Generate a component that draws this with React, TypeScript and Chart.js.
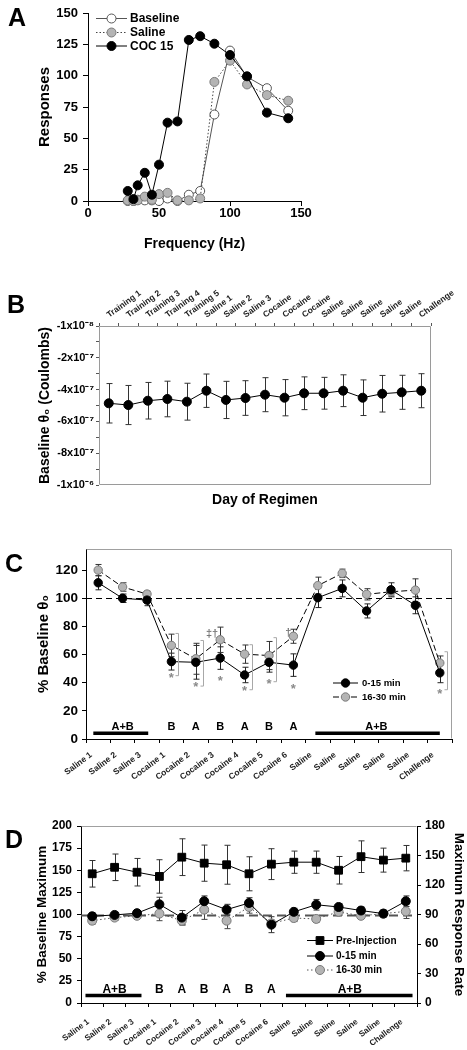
import React, { useEffect, useRef } from "react";
import { Chart, registerables } from "chart.js";

Chart.register(...registerables);

const FONT = "'Liberation Sans', Arial, Helvetica, sans-serif";

/* ---------------- Panel A ---------------- */
const A_SERIES = ["Baseline", "Saline", "COC 15"];
const A_FREQ_HZ = [28, 32, 35, 40, 45, 50, 56, 63, 71, 79, 89, 100, 112, 126, 141];
const A_BASELINE = [0, 0, 1, 0.5, 0.5, 0, 2, 0, 5, 8, 69, 120, 99, 90, 72];
const A_SALINE = [0.5, 0, 0.5, 3.5, 1, 5.5, 6.5, 0.5, 0.5, 2, 95, 112, 93, 84.5, 80];
const A_COC15 = [8, 1.5, 12.5, 22.5, 5, 29, 62.5, 63.5, 128.5, 131.5, 125.5, 116.5, 99.5, 70.5, 66];

/* ---------------- Panel B ---------------- */
const B_DAYS = [
  "Training 1", "Training 2", "Training 3", "Training 4", "Training 5",
  "Saline 1", "Saline 2", "Saline 3", "Cocaine", "Cocaine", "Cocaine",
  "Saline", "Saline", "Saline", "Saline", "Saline", "Challenge",
];
const B_THETA0 = [
  -4.86e-7, -4.97e-7, -4.7e-7, -4.59e-7, -4.76e-7, -4.07e-7, -4.65e-7, -4.53e-7, -4.32e-7,
  -4.51e-7, -4.23e-7, -4.23e-7, -4.07e-7, -4.51e-7, -4.26e-7, -4.17e-7, -4.07e-7,
];
const B_THETA0_SEM = [
  1.24e-7, 1.23e-7, 1.15e-7, 1.12e-7, 1.16e-7, 1.05e-7, 1.17e-7, 1.09e-7, 1.07e-7,
  1.14e-7, 1.03e-7, 1.0e-7, 1.0e-7, 1.12e-7, 1.15e-7, 1.07e-7, 1.07e-7,
];
const B_Y_TICK_LABELS = ["-1x10⁻⁸", "-2x10⁻⁷", "-4x10⁻⁷", "-6x10⁻⁷", "-8x10⁻⁷", "-1x10⁻⁶"];

/* ---------------- Panel C ---------------- */
const C_SERIES = ["0-15 min", "16-30 min"];
const C_DAYS = [
  "Saline 1", "Saline 2", "Saline 3", "Cocaine 1", "Cocaine 2", "Cocaine 3", "Cocaine 4",
  "Cocaine 5", "Cocaine 6", "Saline", "Saline", "Saline", "Saline", "Saline", "Challenge",
];
const C_EARLY = [111, 100, 98.7, 55, 54.5, 57.5, 45.5, 54.5, 52.5, 100.4, 107, 91, 106, 95, 47];
const C_EARLY_SEM = [5, 3, 4, 6, 12, 8, 5.5, 7, 8, 7, 6, 5, 5, 6, 7];
const C_LATE = [120, 108, 103, 66.5, 57, 70.5, 60.3, 59.3, 73, 109, 117.7, 102.8, 104.6, 105.8, 54];
const C_LATE_SEM = [4, 3, 2, 8, 11, 9, 6.5, 10, 5, 6, 3, 4, 3, 8, 5];
const C_GROUP_LETTERS = ["B", "A", "B", "A", "B", "A"];
const C_GROUP_BARS = [
  { from: -0.2, to: 2.05, label: "A+B", at: 1 },
  { from: 8.9, to: 14, label: "A+B", at: 11.4 },
];
const C_STARS: [number, number][] = [[3, 45.5], [4, 38.5], [5, 43], [6, 36], [7, 40.7], [8, 37.6], [14, 34]];
const C_BRACKETS: [number, number, number][] = [[3, 75, 45], [4, 70, 37.6], [6, 67, 35], [7, 72, 40.7], [14, 62, 35]];
const C_DAGGERS: [number, number, string][] = [[5, 74.5, "‡†"], [8, 75.3, "†"]];

/* ---------------- Panel D ---------------- */
const D_SERIES = ["Pre-Injection", "0-15 min", "16-30 min"];
const D_DAYS = [
  "Saline 1", "Saline 2", "Saline 3", "Cocaine 1", "Cocaine 2", "Cocaine 3", "Cocaine 4",
  "Cocaine 5", "Cocaine 6", "Saline", "Saline", "Saline", "Saline", "Saline", "Challenge",
];
const D_PRE_RATE = [131.4, 138, 133, 128.7, 148.3, 142.2, 140.6, 131.4, 141.2, 143.2, 143.2, 135, 148.8, 145.3, 147.3];
const D_PRE_RATE_SEM = [13.5, 13.5, 14, 17, 18.7, 18.4, 19.8, 17.3, 15.7, 11.3, 11.3, 14, 16.1, 12.2, 12.9];
const D_EARLY = [98, 99.5, 101.5, 111.5, 96.5, 115, 105.5, 113, 88.5, 103, 111, 108.5, 104.5, 101, 115];
const D_EARLY_SEM = [4, 3, 3, 8, 8, 6, 6, 6, 9, 4, 6, 4, 4, 4, 6];
const D_LATE = [93, 96.5, 98.5, 101, 93, 105.5, 93, 108.5, 90, 96, 95, 103, 98.5, 101, 103.5];
const D_LATE_SEM = [4, 3, 3, 8, 5, 11, 9, 7, 4, 4, 4, 4, 3, 4, 8];
const D_GROUP_LETTERS = ["B", "A", "B", "A", "B", "A"];
const D_GROUP_BARS = [
  { from: -0.3, to: 2.2, label: "A+B", at: 1 },
  { from: 8.65, to: 14.3, label: "A+B", at: 11.5 },
];

/* ---------------- helpers ---------------- */
const bold = (size: number) => ({ family: FONT, size, weight: "bold" as const });
const GRAY_FILL = "#b4b4b4";
const GRAY_LINE = "#7a7a7a";

const errorBars = {
  id: "errorBarsLocal",
  beforeDatasetsDraw(chart: any) {
    const ctx = chart.ctx;
    chart.data.datasets.forEach((ds: any, di: number) => {
      if (!ds.errors) return;
      const meta = chart.getDatasetMeta(di);
      const ys = chart.scales[meta.yAxisID];
      ctx.save();
      ctx.strokeStyle = ds.errorColor || "#333";
      ctx.lineWidth = 1;
      meta.data.forEach((el: any, i: number) => {
        const raw = ds.data[i];
        const v = typeof raw === "number" ? raw : raw.y;
        const e = ds.errors[i];
        const x = Math.round(el.x) + 0.5;
        const yt = ys.getPixelForValue(v + e);
        const yb = ys.getPixelForValue(v - e);
        const c = ds.errorCap ?? 3;
        ctx.beginPath();
        ctx.moveTo(x, yt);
        ctx.lineTo(x, yb);
        ctx.moveTo(x - c, yt);
        ctx.lineTo(x + c, yt);
        ctx.moveTo(x - c, yb);
        ctx.lineTo(x + c, yb);
        ctx.stroke();
      });
      ctx.restore();
    });
  },
};

function framePlugin(sides: string[], color: string) {
  return {
    id: "frameLocal",
    beforeDatasetsDraw(chart: any) {
      const { ctx, chartArea: a } = chart;
      const L = Math.round(a.left) + 0.5;
      const R = Math.round(a.right) - 0.5;
      const T = Math.round(a.top) + 0.5;
      const B = Math.round(a.bottom) - 0.5;
      ctx.save();
      ctx.strokeStyle = color;
      ctx.lineWidth = 1;
      ctx.beginPath();
      if (sides.includes("top")) { ctx.moveTo(L, T); ctx.lineTo(R, T); }
      if (sides.includes("right")) { ctx.moveTo(R, T); ctx.lineTo(R, B); }
      if (sides.includes("bottom")) { ctx.moveTo(L, B); ctx.lineTo(R, B); }
      if (sides.includes("left")) { ctx.moveTo(L, T); ctx.lineTo(L, B); }
      ctx.stroke();
      ctx.restore();
    },
  };
}

function refLinePlugin(axisId: string, value: number, color: string, width: number, dash: number[]) {
  return {
    id: "refLineLocal",
    beforeDatasetsDraw(chart: any) {
      const { ctx, chartArea: a } = chart;
      const y = Math.round(chart.scales[axisId].getPixelForValue(value)) + 0.5;
      ctx.save();
      ctx.strokeStyle = color;
      ctx.lineWidth = width;
      ctx.setLineDash(dash);
      ctx.beginPath();
      ctx.moveTo(a.left, y);
      ctx.lineTo(a.right, y);
      ctx.stroke();
      ctx.restore();
    },
  };
}

type LegendRow = {
  label: string; lineColor: string; dash: number[]; fill: string; stroke: string;
  shape: "circle" | "rect"; r: number; y: number;
};
function legendPlugin(rows: LegendRow[], x0: number, x1: number, textX: number, fontSize: number) {
  return {
    id: "miniLegend",
    afterDatasetsDraw(chart: any) {
      const ctx = chart.ctx;
      rows.forEach((row) => {
        ctx.save();
        ctx.strokeStyle = row.lineColor;
        ctx.lineWidth = 1;
        ctx.setLineDash(row.dash);
        ctx.beginPath();
        ctx.moveTo(x0, row.y + 0.5);
        ctx.lineTo(x1, row.y + 0.5);
        ctx.stroke();
        ctx.setLineDash([]);
        const xm = (x0 + x1) / 2;
        ctx.fillStyle = row.fill;
        ctx.strokeStyle = row.stroke;
        ctx.beginPath();
        if (row.shape === "rect") ctx.rect(xm - row.r, row.y + 0.5 - row.r, 2 * row.r, 2 * row.r);
        else ctx.arc(xm, row.y + 0.5, row.r, 0, Math.PI * 2);
        ctx.fill();
        ctx.stroke();
        ctx.fillStyle = "#000";
        ctx.font = `bold ${fontSize}px ${FONT}`;
        ctx.textBaseline = "middle";
        ctx.textAlign = "left";
        ctx.fillText(row.label, textX, row.y + 1);
        ctx.restore();
      });
    },
  };
}

type MarksCfg = {
  bars: { from: number; to: number; label: string; at: number }[];
  letters: string[];
  letterStart: number;
  barValue: number;
  textValue: number;
  fontSize: number;
  stars?: [number, number][];
  brackets?: [number, number, number][];
  daggers?: [number, number, string][];
};
function marksPlugin(cfg: MarksCfg) {
  return {
    id: "regimenMarks",
    afterDatasetsDraw(chart: any) {
      const ctx = chart.ctx;
      const xs = chart.scales.x;
      const ys = chart.scales.y;
      ctx.save();
      const by = ys.getPixelForValue(cfg.barValue);
      const ty = ys.getPixelForValue(cfg.textValue);
      ctx.strokeStyle = "#000";
      ctx.lineWidth = 3.5;
      ctx.fillStyle = "#000";
      ctx.font = `bold ${cfg.fontSize}px ${FONT}`;
      ctx.textAlign = "center";
      ctx.textBaseline = "middle";
      cfg.bars.forEach((b) => {
        ctx.beginPath();
        ctx.moveTo(xs.getPixelForValue(b.from), by);
        ctx.lineTo(xs.getPixelForValue(b.to), by);
        ctx.stroke();
        ctx.fillText(b.label, xs.getPixelForValue(b.at), ty);
      });
      cfg.letters.forEach((l, k) => ctx.fillText(l, xs.getPixelForValue(cfg.letterStart + k), ty));
      if (cfg.brackets) {
        ctx.strokeStyle = "#a8a8a8";
        ctx.lineWidth = 1;
        cfg.brackets.forEach(([i, top, bot]) => {
          const x = Math.round(xs.getPixelForValue(i)) + 7.5;
          const y1 = ys.getPixelForValue(top);
          const y2 = ys.getPixelForValue(bot);
          ctx.beginPath();
          ctx.moveTo(x - 3, y1);
          ctx.lineTo(x, y1);
          ctx.lineTo(x, y2);
          ctx.lineTo(x - 3, y2);
          ctx.stroke();
        });
      }
      if (cfg.stars) {
        ctx.fillStyle = "#8a8a8a";
        ctx.font = `bold 13px ${FONT}`;
        cfg.stars.forEach(([i, v]) => ctx.fillText("*", xs.getPixelForValue(i), ys.getPixelForValue(v) + 3));
      }
      if (cfg.daggers) {
        ctx.fillStyle = "#777";
        ctx.font = `bold 11px ${FONT}`;
        ctx.textAlign = "right";
        cfg.daggers.forEach(([i, v, s]) => ctx.fillText(s, xs.getPixelForValue(i) - 2, ys.getPixelForValue(v)));
      }
      ctx.restore();
    },
  };
}

const baseOptions = {
  responsive: false,
  animation: false as const,
  events: [] as any[],
  plugins: { legend: { display: false }, tooltip: { enabled: false } },
};

/* ---------------- chart builders ---------------- */
function buildA() {
  const pts = (ys: number[]) => A_FREQ_HZ.map((x, i) => ({ x, y: ys[i] }));
  return {
    type: "line",
    data: {
      datasets: [
        { label: A_SERIES[0], data: pts(A_BASELINE), borderColor: "#555", borderWidth: 1, pointRadius: 4.5,
          pointBackgroundColor: "#fff", pointBorderColor: "#555", pointBorderWidth: 1, order: 3, clip: false },
        { label: A_SERIES[1], data: pts(A_SALINE), borderColor: "#444", borderWidth: 1, borderDash: [1.5, 2],
          pointRadius: 4.5, pointBackgroundColor: GRAY_FILL, pointBorderColor: GRAY_LINE, pointBorderWidth: 1,
          order: 2, clip: false },
        { label: A_SERIES[2], data: pts(A_COC15), borderColor: "#000", borderWidth: 1, pointRadius: 4.5,
          pointBackgroundColor: "#000", pointBorderColor: "#000", pointBorderWidth: 1, order: 1, clip: false },
      ],
    },
    options: {
      ...baseOptions,
      layout: { padding: { left: 0, top: 13, right: 19, bottom: 0 } },
      scales: {
        x: {
          type: "linear", min: 0, max: 150,
          ticks: { stepSize: 50, font: bold(13), color: "#000", padding: 0 },
          grid: { drawOnChartArea: false, tickLength: 5, color: "#000" },
          border: { color: "#000", width: 1 },
          title: { display: true, text: "Frequency (Hz)", font: bold(14), color: "#000", padding: { top: 0, bottom: 7.5 } },
          afterFit: (s: any) => { s.height = 59; },
        },
        y: {
          min: 0, max: 150,
          ticks: { stepSize: 25, font: bold(13), color: "#000", padding: 5 },
          grid: { drawOnChartArea: false, tickLength: 5, color: "#000" },
          border: { color: "#000", width: 1 },
          title: { display: true, text: "Responses", font: bold(15), color: "#000", padding: { top: 36, bottom: 0 } },
          afterFit: (s: any) => { s.width = 88; },
        },
      },
    },
    plugins: [
      legendPlugin(
        [
          { label: A_SERIES[0], lineColor: "#555", dash: [], fill: "#fff", stroke: "#555", shape: "circle", r: 4.5, y: 18 },
          { label: A_SERIES[1], lineColor: "#444", dash: [1.5, 2], fill: GRAY_FILL, stroke: GRAY_LINE, shape: "circle", r: 4.5, y: 32 },
          { label: A_SERIES[2], lineColor: "#000", dash: [], fill: "#000", stroke: "#000", shape: "circle", r: 4.5, y: 45.5 },
        ],
        96, 127, 130, 12
      ),
    ],
  };
}

function buildB() {
  return {
    type: "line",
    data: {
      labels: B_DAYS,
      datasets: [
        { data: B_THETA0, errors: B_THETA0_SEM, errorColor: "#333", errorCap: 3, borderColor: "#000", borderWidth: 1,
          pointRadius: 4.5, pointBackgroundColor: "#000", pointBorderColor: "#000", clip: false },
      ],
    },
    options: {
      ...baseOptions,
      layout: { padding: { left: 0, top: 0, right: 36, bottom: 0 } },
      scales: {
        x: {
          type: "category", position: "top", offset: true,
          grid: { offset: true, drawOnChartArea: false, tickLength: 3, color: "#555" },
          border: { display: false },
          ticks: { autoSkip: false, minRotation: 36, maxRotation: 36, font: bold(8.5), color: "#222", padding: 3, labelOffset: 5 },
          afterFit: (s: any) => { s.height = 64; },
        },
        x2: {
          type: "category", position: "bottom", labels: B_DAYS, offset: true,
          grid: { display: false }, border: { display: false }, ticks: { display: false },
          title: { display: true, text: "Day of Regimen", font: bold(14), color: "#000", padding: { top: 0, bottom: 11.6 } },
          afterFit: (s: any) => { s.height = 35; },
        },
        y: {
          min: -1e-6, max: 0,
          ticks: {
            stepSize: 1e-7, autoSkip: false, font: bold(11), color: "#000", padding: 2,
            callback: (_v: any, i: number) => (i % 2 === 0 ? B_Y_TICK_LABELS[5 - i / 2] : ""),
          },
          grid: { drawOnChartArea: false, tickLength: 3, color: "#555" },
          border: { display: false },
          title: { display: true, text: "Baseline θ₀ (Coulombs)", font: bold(14), color: "#000", padding: { top: 36.6, bottom: 0 } },
          afterFit: (s: any) => { s.width = 99; },
        },
      },
    },
    plugins: [errorBars, framePlugin(["top", "right", "bottom", "left"], "#9a9a9a")],
  };
}

function buildC() {
  return {
    type: "line",
    data: {
      labels: C_DAYS,
      datasets: [
        { label: C_SERIES[0], data: C_EARLY, errors: C_EARLY_SEM, errorColor: "#222", borderColor: "#000", borderWidth: 1,
          pointRadius: 4.2, pointBackgroundColor: "#000", pointBorderColor: "#000", order: 1, clip: false },
        { label: C_SERIES[1], data: C_LATE, errors: C_LATE_SEM, errorColor: "#333", borderColor: "#000", borderWidth: 1,
          borderDash: [6, 3], pointRadius: 4.2, pointBackgroundColor: GRAY_FILL, pointBorderColor: GRAY_LINE,
          order: 2, clip: false },
      ],
    },
    options: {
      ...baseOptions,
      layout: { padding: { left: 0, top: 19, right: 15, bottom: 0 } },
      scales: {
        x: {
          type: "category", offset: true,
          grid: { offset: true, drawOnChartArea: false, tickLength: 4, color: "#000" },
          border: { color: "#000", width: 1 },
          ticks: { autoSkip: false, minRotation: 37, maxRotation: 37, font: bold(8.5), color: "#222", padding: 7, labelOffset: -7 },
          afterFit: (s: any) => { s.height = 63; },
        },
        y: {
          min: 0, max: 135,
          ticks: { stepSize: 20, includeBounds: false, font: bold(13.5), color: "#000", padding: 4 },
          grid: { drawOnChartArea: false, tickLength: 4, color: "#000" },
          border: { color: "#000", width: 1 },
          title: { display: true, text: "% Baseline θ₀", font: bold(15), color: "#000", padding: { top: 34.5, bottom: 0 } },
          afterFit: (s: any) => { s.width = 86; },
        },
      },
    },
    plugins: [
      framePlugin(["top", "right"], "#a0a0a0"),
      refLinePlugin("y", 100, "#000", 1, [6, 4]),
      errorBars,
      marksPlugin({
        bars: C_GROUP_BARS, letters: C_GROUP_LETTERS, letterStart: 3, barValue: 4, textValue: 8.7, fontSize: 11,
        stars: C_STARS, brackets: C_BRACKETS, daggers: C_DAGGERS,
      }),
      legendPlugin(
        [
          { label: C_SERIES[0], lineColor: "#000", dash: [], fill: "#000", stroke: "#000", shape: "circle", r: 4.2, y: 152.5 },
          { label: C_SERIES[1], lineColor: "#000", dash: [6, 3], fill: GRAY_FILL, stroke: GRAY_LINE, shape: "circle", r: 4.2, y: 166.5 },
        ],
        333, 358, 362, 9.5
      ),
    ],
  };
}

function buildD() {
  return {
    type: "line",
    data: {
      labels: D_DAYS,
      datasets: [
        { label: D_SERIES[0], data: D_PRE_RATE, errors: D_PRE_RATE_SEM, errorColor: "#333", yAxisID: "y1",
          borderColor: "#000", borderWidth: 1, pointStyle: "rect", pointRadius: 5.5, pointBackgroundColor: "#000",
          pointBorderColor: "#000", order: 3, clip: false },
        { label: D_SERIES[1], data: D_EARLY, errors: D_EARLY_SEM, errorColor: "#333", yAxisID: "y",
          borderColor: "#000", borderWidth: 1, pointRadius: 4.5, pointBackgroundColor: "#000", pointBorderColor: "#000",
          order: 1, clip: false },
        { label: D_SERIES[2], data: D_LATE, errors: D_LATE_SEM, errorColor: "#444", yAxisID: "y",
          borderColor: "#555", borderWidth: 1, borderDash: [1.5, 2.5], pointRadius: 4.5,
          pointBackgroundColor: GRAY_FILL, pointBorderColor: GRAY_LINE, order: 2, clip: false },
      ],
    },
    options: {
      ...baseOptions,
      layout: { padding: { left: 0, top: 18, right: 0, bottom: 0 } },
      scales: {
        x: {
          type: "category", offset: true,
          grid: { offset: true, drawOnChartArea: false, tickLength: 4, color: "#000" },
          border: { color: "#000", width: 1 },
          ticks: { autoSkip: false, minRotation: 37, maxRotation: 37, font: bold(8.2), color: "#222", padding: 10, labelOffset: -4 },
          afterFit: (s: any) => { s.height = 47; },
        },
        y: {
          position: "left", min: 0, max: 200,
          ticks: { stepSize: 25, font: bold(12), color: "#000", padding: 5 },
          grid: { drawOnChartArea: false, tickLength: 4, color: "#000" },
          border: { color: "#000", width: 1 },
          title: { display: true, text: "% Baseline Maximum", font: bold(13.5), color: "#000", padding: { top: 34.4, bottom: 0 } },
          afterFit: (s: any) => { s.width = 81; },
        },
        y1: {
          position: "right", min: 0, max: 180,
          ticks: { stepSize: 30, font: bold(12), color: "#000", padding: 4 },
          grid: { drawOnChartArea: false, tickLength: 4, color: "#000" },
          border: { color: "#000", width: 1 },
          title: { display: true, text: "Maximum Response Rate", font: bold(13.5), color: "#000", padding: { top: 0, bottom: 0 } },
          afterFit: (s: any) => { s.width = 50; },
        },
      },
    },
    plugins: [
      framePlugin(["top"], "#a0a0a0"),
      refLinePlugin("y", 100, "#555", 2, [9, 5]),
      errorBars,
      marksPlugin({ bars: D_GROUP_BARS, letters: D_GROUP_LETTERS, letterStart: 3, barValue: 8.6, textValue: 15, fontSize: 12 }),
      legendPlugin(
        [
          { label: D_SERIES[0], lineColor: "#000", dash: [], fill: "#000", stroke: "#000", shape: "rect", r: 3.9, y: 132 },
          { label: D_SERIES[1], lineColor: "#000", dash: [], fill: "#000", stroke: "#000", shape: "circle", r: 4.5, y: 147.5 },
          { label: D_SERIES[2], lineColor: "#555", dash: [1.5, 2.5], fill: GRAY_FILL, stroke: GRAY_LINE, shape: "circle", r: 4.5, y: 161.5 },
        ],
        307, 333, 336, 10
      ),
    ],
  };
}

/* ---------------- components ---------------- */
function ChartPanel({ top, width, height, build }: { top: number; width: number; height: number; build: () => any }) {
  const ref = useRef<HTMLCanvasElement>(null);
  useEffect(() => {
    const chart = new Chart(ref.current as HTMLCanvasElement, build());
    return () => chart.destroy();
  }, []);
  return (
    <div style={{ position: "absolute", left: 0, top, width, height }}>
      <canvas ref={ref} width={width} height={height} style={{ display: "block", width, height }} />
    </div>
  );
}

function PanelLetter({ text, left, top }: { text: string; left: number; top: number }) {
  return (
    <div style={{ position: "absolute", left, top, font: `bold 25px ${FONT}`, lineHeight: "25px", color: "#000" }}>
      {text}
    </div>
  );
}

export default function App() {
  return (
    <div style={{ position: "absolute", left: 0, top: 0, width: 467, height: 1050, background: "#fff", overflow: "hidden" }}>
      <ChartPanel top={0} width={320} height={260} build={buildA} />
      <ChartPanel top={262} width={467} height={258} build={buildB} />
      <ChartPanel top={530} width={467} height={272} build={buildC} />
      <ChartPanel top={808} width={467} height={242} build={buildD} />
      <PanelLetter text="A" left={8} top={5} />
      <PanelLetter text="B" left={7} top={292} />
      <PanelLetter text="C" left={5} top={551} />
      <PanelLetter text="D" left={5} top={827} />
    </div>
  );
}
